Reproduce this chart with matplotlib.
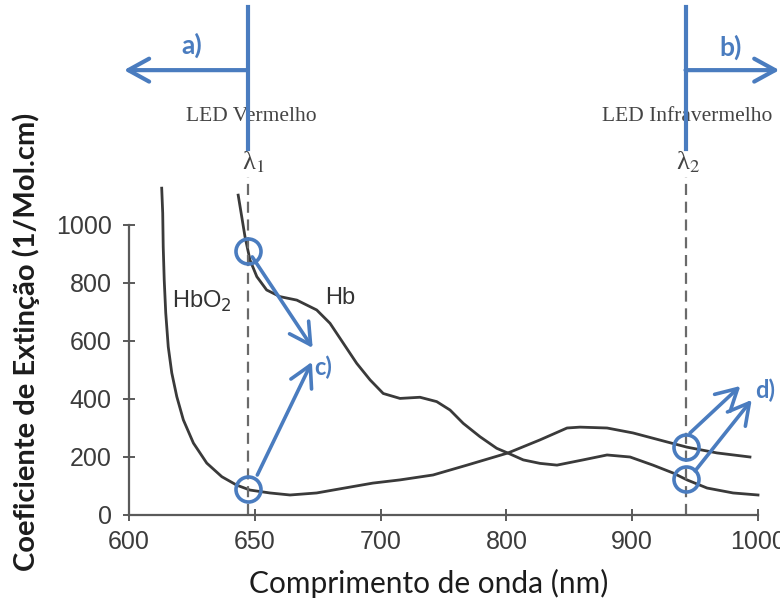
import numpy as np
import matplotlib
matplotlib.use("Agg")
import matplotlib.pyplot as plt

# axis ticks (the wavelength axis is uneven: 50 nm steps up to 700, then 100 nm)
x_ticks = [600, 650, 700, 800, 900, 1000]
y_ticks = [0, 200, 400, 600, 800, 1000]

# HbO2 extinction curve
hbo2_nm = [613.0, 613.4, 613.6, 614.0, 614.6, 615.6, 617.0, 619.0, 621.6, 625.6, 630.9,
           636.9, 642.8, 648.1, 656.0, 664.0, 674.6, 681.1, 696.9, 715.4, 741.7, 768.7,
           801.3, 826.7, 848.2, 858.5, 880.0, 900.6, 927.6, 943.5, 967.4, 993.6]
hbo2_val = [1127, 1041, 925, 810, 697, 580, 490, 408, 328, 248, 179,
            132, 103, 86, 76, 69, 76, 86, 110, 121, 138, 172,
            214, 259, 300, 303, 300, 283, 252, 234, 214, 200]

# Hb extinction curve
hb_nm = [643.4, 644.8, 646.1, 648.1, 650.8, 654.7, 660.0, 666.7, 674.6, 679.9, 685.2,
         690.5, 695.8, 702.1, 715.4, 731.3, 744.6, 755.2, 765.7, 779.0, 792.3, 801.5,
         813.4, 826.7, 840.2, 860.9, 880.0, 898.3, 916.5, 932.4, 943.6, 959.5, 980.2,
         1000]
hb_val = [1103, 1029, 960, 879, 822, 776, 753, 741, 707, 661, 592,
          523, 466, 419, 402, 406, 391, 362, 316, 270, 230, 213,
          190, 178, 172, 190, 207, 200, 172, 145, 121, 93, 76,
          69]

lam1, lam2 = 647.3, 942.4

BLUE = "#4a7cbf"
CURVE = "#3a3a3a"
AX = "#5a5a5a"

wl_knots = [550, 600, 650, 700, 800, 900, 1000, 1100]
pos_knots = [-1, 0, 1, 2, 3, 4, 5, 6]


def fwd(x):
    return np.interp(x, wl_knots, pos_knots)


def inv(u):
    return np.interp(u, pos_knots, wl_knots)


fig = plt.figure(figsize=(7.8, 6.07), dpi=100)
ax = fig.add_axes([129 / 780, 92 / 607, 629 / 780, 290 / 607])
ax.set_xscale("function", functions=(fwd, inv))
ax.set_xlim(600, 1000)
ax.set_ylim(0, 1000)

for s in ["top", "right"]:
    ax.spines[s].set_visible(False)
for s in ["left", "bottom"]:
    ax.spines[s].set_color(AX)
    ax.spines[s].set_linewidth(1.6)

ax.set_xticks(x_ticks)
ax.set_xticklabels([str(v) for v in x_ticks])
ax.set_yticks(y_ticks)
ax.minorticks_off()
ax.tick_params(direction="inout", length=9, width=1.4, color=AX,
               labelsize=18, labelcolor="#3c3c3c")
ax.tick_params(axis="y", pad=8)
ax.tick_params(axis="x", pad=6)
for lab in ax.get_xticklabels() + ax.get_yticklabels():
    lab.set_family("Liberation Sans")

# curves
ax.plot(hbo2_nm, hbo2_val, color=CURVE, lw=2, clip_on=False, solid_joinstyle="round")
ax.plot(hb_nm, hb_val, color=CURVE, lw=2, clip_on=False, solid_joinstyle="round")

ax.text(629, 738, "HbO$_2$", fontsize=17, color="#333333", family="Liberation Sans",
        math_fontfamily="dejavusans", ha="center", va="center")
ax.text(684, 748, "Hb", fontsize=17, color="#333333", family="Liberation Sans",
        ha="center", va="center")

# LED wavelength markers
for lam, name, sub in [(lam1, "LED Vermelho", "1"), (lam2, "LED Infravermelho", "2")]:
    ax.plot([lam, lam], [0, 1165], color="#6a6a6a", lw=1.6, ls=(0, (5, 3)), clip_on=False)
    ax.plot([lam, lam], [1262, 1752], color=BLUE, lw=3, clip_on=False, zorder=4)
    ax.text(lam + 2, 1218, "λ$_" + sub + "$", fontsize=19, color="#444444",
            family="Liberation Serif", math_fontfamily="stix", ha="center", va="center")
    ax.text(lam + 1.5, 1375, name, fontsize=15.5, color="#444444",
            family="Liberation Serif", ha="center", va="center", zorder=1)

# a) / b) direction arrows
ax.annotate("", xy=(598, 1534), xytext=(lam1, 1534), annotation_clip=False,
            arrowprops=dict(arrowstyle="->,head_length=1,head_width=0.55",
                            color=BLUE, lw=3, mutation_scale=15, shrinkA=0, shrinkB=0))
ax.annotate("", xy=(1017, 1534), xytext=(lam2, 1534), annotation_clip=False,
            arrowprops=dict(arrowstyle="->,head_length=1,head_width=0.55",
                            color=BLUE, lw=3, mutation_scale=15, shrinkA=0, shrinkB=0))
ax.text(625, 1620, "a)", fontsize=19, color=BLUE, weight="bold", family="Lato",
        ha="center", va="center")
ax.text(978, 1614, "b)", fontsize=19, color=BLUE, weight="bold", family="Lato",
        ha="center", va="center")

# circled points at the LED wavelengths
pts = [(lam1, np.interp(lam1, hb_nm, hb_val)), (lam1, np.interp(lam1, hbo2_nm, hbo2_val)),
       (lam2, np.interp(lam2, hbo2_nm, hbo2_val)), (lam2, np.interp(lam2, hb_nm, hb_val))]
for px, py in pts:
    ax.plot([px], [py], "o", ms=18, mfc="none", mec=BLUE, mew=2.6, clip_on=False, zorder=5)

arrows = [((649, 890), (673, 576)), ((651, 138), (672.7, 528)),
          ((946, 283), (986, 445)), ((950, 152), (995, 397))]
for tail, tip in arrows:
    ax.annotate("", xy=tip, xytext=tail, annotation_clip=False, zorder=5,
                arrowprops=dict(arrowstyle="->,head_length=1,head_width=0.55",
                                color=BLUE, lw=2.6, mutation_scale=15,
                                shrinkA=0, shrinkB=0))
ax.text(677, 510, "c)", fontsize=17, color=BLUE, weight="bold", family="Lato",
        ha="center", va="center")
ax.text(1006, 431, "d)", fontsize=17, color=BLUE, weight="bold", family="Lato",
        ha="center", va="center", clip_on=False)

fig.text(429 / 780, 1 - 583 / 607, "Comprimento de onda (nm)", fontsize=21.5,
         family="Lato", color="#1c1c1c", ha="center", va="center")
fig.text(26 / 780, 1 - 342 / 607, "Coeficiente de Extinção (1/Mol.cm)", fontsize=21,
         family="Lato", weight="bold", color="#1c1c1c", ha="center", va="center",
         rotation=90)

fig.savefig("out.png", dpi=100)
